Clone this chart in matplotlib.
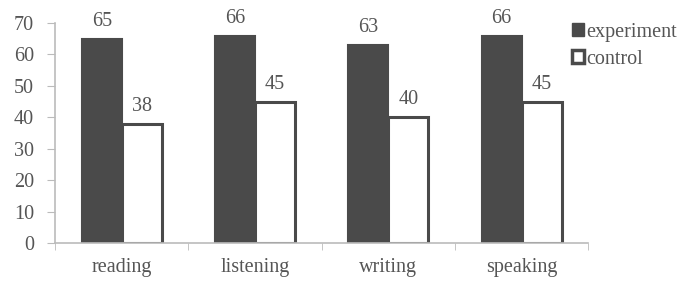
import matplotlib.pyplot as plt
import numpy as np
from matplotlib.patches import Patch

categories = ["reading", "listening", "writing", "speaking"]
experiment = [65, 66, 63, 66]
control = [38, 45, 40, 45]

plt.rcParams["font.family"] = ["Liberation Serif", "DejaVu Serif"]
text_color = "#555555"
bar_color = "#4a4a4a"

fig = plt.figure(figsize=(6.88, 2.84), dpi=100)
ax = fig.add_axes([0.080, 0.144, 0.775, 0.775])

x = np.arange(len(categories))
w = 0.3
b1 = ax.bar(x - w / 2, experiment, w, color=bar_color, edgecolor=bar_color, linewidth=1.5, label="experiment")
b2 = ax.bar(x + w / 2, control, w, color="white", edgecolor=bar_color, linewidth=2.2, label="control")

for bars, vals in ((b1, experiment), (b2, control)):
    for rect, v in zip(bars, vals):
        ax.text(rect.get_x() + rect.get_width() / 2, v + 2.5, str(v),
                ha="center", va="bottom", fontsize=14.5, color=text_color)

ax.set_xlim(-0.5, len(categories) - 0.5)
ax.set_ylim(0, 70)
ax.set_yticks(range(0, 71, 10))
ax.set_xticks(x)
ax.set_xticklabels(categories)
ax.set_xticks(np.arange(-0.5, len(categories), 1), minor=True)
ax.tick_params(axis="x", which="major", length=0, pad=11)
ax.tick_params(axis="x", which="minor", length=5, color="#bbbbbb")
ax.tick_params(axis="y", length=6, color="#bbbbbb", pad=9)
ax.tick_params(labelsize=14.5, labelcolor=text_color)

for side in ("top", "right"):
    ax.spines[side].set_visible(False)
for side in ("left", "bottom"):
    ax.spines[side].set_color("#bbbbbb")
    ax.spines[side].set_linewidth(1.2)

handles = [Patch(facecolor=bar_color, edgecolor=bar_color),
           Patch(facecolor="white", edgecolor=bar_color, linewidth=2.5)]
fig.legend(handles, ["experiment", "control"], loc="upper left",
           bbox_to_anchor=(0.832, 0.92), frameon=False, fontsize=14.5,
           handlelength=0.6, handleheight=0.6, handletextpad=0.1,
           labelspacing=0.4, borderpad=0, borderaxespad=0,
           labelcolor=text_color)

fig.savefig("out.png", dpi=100)
